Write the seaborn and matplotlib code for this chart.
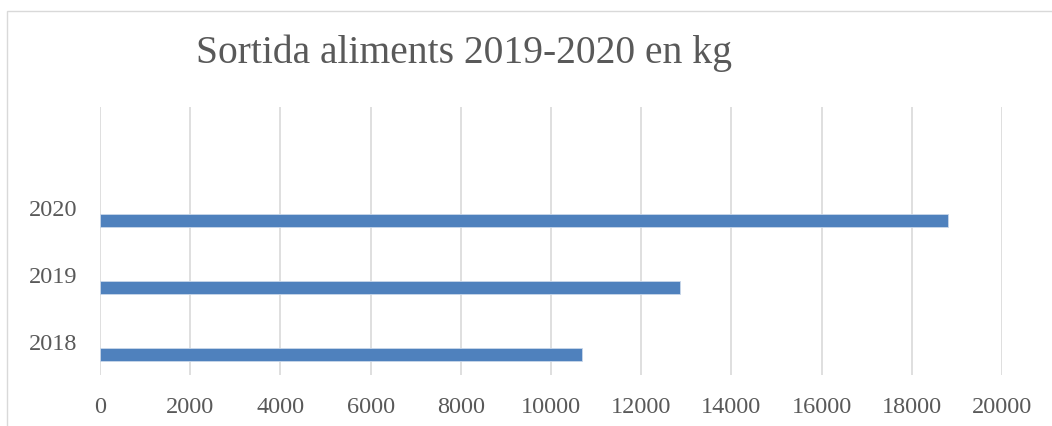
import matplotlib
matplotlib.use("Agg")
import matplotlib.pyplot as plt
import seaborn as sns
import pandas as pd
from matplotlib.patches import Rectangle

# Data
years = ["2020", "2019", "2018"]
kg = [18800, 12850, 10680]
series_levels = ["_s1", "_s2", "Sortida"]
x_ticks = list(range(0, 20001, 2000))

df = pd.DataFrame({"year": years, "kg": kg, "serie": ["Sortida"] * len(years)})

sns.set_theme(style="white")
plt.rcParams["font.family"] = ["Liberation Serif", "DejaVu Serif"]

fig = plt.figure(figsize=(10.52, 4.26), dpi=100)
ax = fig.add_axes([100 / 1052, 1 - 375 / 426, 902 / 1052, 268 / 426])

bar_color = "#4F81BD"
sns.barplot(data=df, x="kg", y="year", hue="serie", hue_order=series_levels,
            order=years, palette=[bar_color] * 3, width=0.582, dodge=True,
            orient="h", legend=False, ax=ax, edgecolor="#C9D7EA", linewidth=0.6,
            saturation=1)

ax.set_xlim(0, 20000)
ax.set_ylim(2.5, -1.5)
ax.set_xticks(x_ticks)
ax.set_xticklabels([str(t) for t in x_ticks])
ax.set_xlabel("")
ax.set_ylabel("")
ax.grid(axis="x", color="#D9D9D9", linewidth=1.2)
ax.grid(axis="y", visible=False)
ax.set_axisbelow(True)
for s in ax.spines.values():
    s.set_visible(False)
ax.tick_params(axis="x", length=0, pad=15.5, labelsize=17.5, labelcolor="#595959")
ax.tick_params(axis="y", length=0, pad=16.5, labelsize=17.5, labelcolor="#595959")

fig.text(463.5 / 1052, 1 - 62.7 / 426, "Sortida aliments 2019-2020 en kg",
         ha="center", va="baseline", fontsize=28.5, color="#595959")

# chart frame (cropped at right and bottom)
fig.patches.append(Rectangle((7 / 1052, -0.05), 1.2, 1 - 10.5 / 426 + 0.05,
                             transform=fig.transFigure, fill=False,
                             edgecolor="#D9D9D9", linewidth=1.0))

fig.savefig("out.png", dpi=100)
